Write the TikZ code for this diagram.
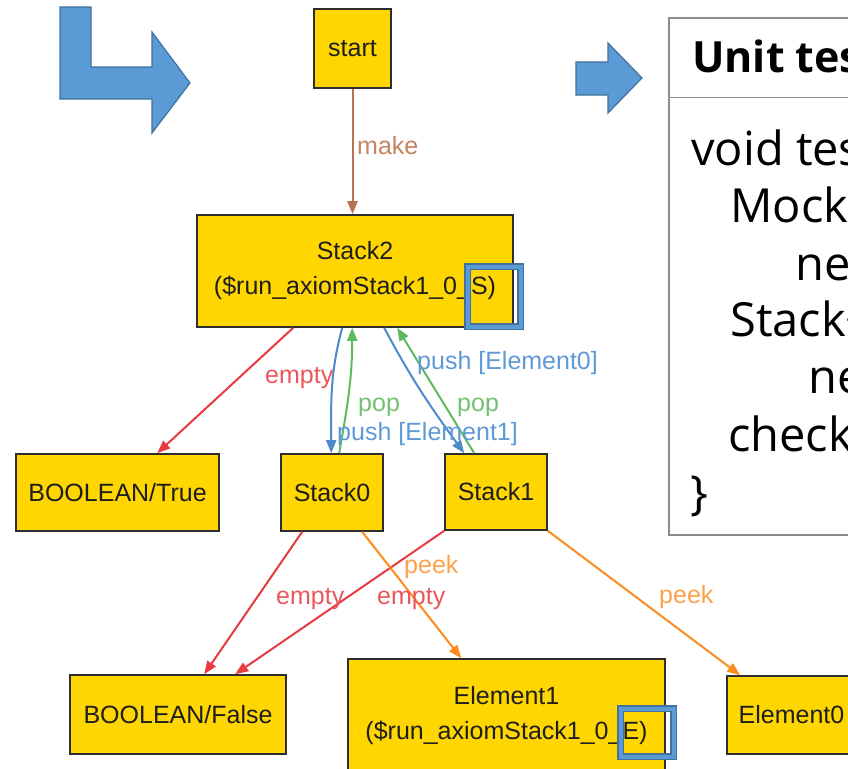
\documentclass[tikz,border=0pt]{standalone}
\usepackage{fontspec}
\setmainfont{Liberation Sans}
\newfontfamily\gfont{Liberation Sans}
\newfontfamily\ufont{Open Sans}
\usetikzlibrary{arrows.meta,calc}
\definecolor{nodefill}{HTML}{FFD600}
\definecolor{nodeborder}{HTML}{2E2E2E}
\definecolor{nodetext}{HTML}{1E1E1E}
\definecolor{makec}{HTML}{B5734F}
\definecolor{makel}{HTML}{C48462}
\definecolor{emptyc}{HTML}{E83A40}
\definecolor{emptyl}{HTML}{E9575C}
\definecolor{pushc}{HTML}{4D8ACB}
\definecolor{pushl}{HTML}{5F9AD6}
\definecolor{popc}{HTML}{5DBB5D}
\definecolor{popl}{HTML}{72C172}
\definecolor{peekc}{HTML}{FF8C1A}
\definecolor{peekl}{HTML}{FFA04A}
\definecolor{arrfill}{HTML}{5B9BD5}
\definecolor{arrline}{HTML}{41719C}
\definecolor{boxgray}{HTML}{8C8C8C}
\begin{document}
\begin{tikzpicture}[x=1pt,y=1pt,
  st/.style={draw=nodeborder, fill=nodefill, line width=1.6pt, inner sep=0pt,
    font=\gfont\fontsize{25}{35}\selectfont, text=nodetext, align=center},
  ed/.style={line width=2pt, -{Triangle[length=13pt,width=10pt]}},
  lbl/.style={font=\gfont\fontsize{25}{30}\selectfont, inner sep=0pt, anchor=base west},
  bigarrow/.style={fill=arrfill, draw=arrline, line width=1.2pt, line join=miter},
  utext/.style={font=\ufont\fontsize{47}{57}\selectfont, inner sep=0pt, anchor=base west, text=black},
  hlout/.style={draw=arrline, line width=7pt},
  hlin/.style={draw=arrfill, line width=4pt}
]
\useasboundingbox (0,0) rectangle (848,-768);
\clip (0,0) rectangle (848,-768);
\fill[white] (0,0) rectangle (848,-768);

% big bent arrow
\draw[bigarrow] (60,-7) -- (91,-7) -- (91,-67) -- (152,-67) -- (152,-32) -- (190,-83)
  -- (152,-133) -- (152,-99) -- (60,-99) -- cycle;
% small arrow
\draw[bigarrow] (576,-62) -- (608,-62) -- (608,-43) -- (642,-78) -- (608,-113)
  -- (608,-95) -- (576,-95) -- cycle;

% unit test box
\node[draw=boxgray, fill=white, line width=1.3pt, minimum width=201pt, minimum height=517pt, inner sep=0pt]
  (ut) at (769.5,-276.5) {};
\coordinate (hl) at ($(ut.north west)+(0,-80)$);
\draw[boxgray, line width=1.3pt] (hl) -- (hl -| ut.east);
\node[utext, font=\ufont\bfseries\fontsize{43}{50}\selectfont] (uth) at (692,-73) {Unit tes};
\node[utext] (u1) at (691,-165) {void tes};
\node[utext] (u2) at (730,-222) {Mock};
\node[utext] (u3) at (795,-280) {new};
\node[utext] (u4) at (730,-336) {Stack<};
\node[utext] (u5) at (808,-393) {ne};
\node[utext] (u6) at (728,-451) {check};
\node[utext] (u7) at (690,-509) {\}};

% graph nodes
\node[st, minimum width=77pt, minimum height=79pt] (start) at (352.5,-48.5) {start};
\node[st, minimum width=316pt, minimum height=112pt] (s2) at (355,-271) {Stack2\\(\$run\_axiomStack1\_0\_S)};
\node[st, minimum width=203pt, minimum height=77pt] (bt) at (117.5,-492.5) {BOOLEAN/True};
\node[st, minimum width=102pt, minimum height=77pt] (s0) at (332,-492.5) {Stack0};
\node[st, minimum width=102pt, minimum height=76pt] (s1) at (496,-492) {Stack1};
\node[st, minimum width=216pt, minimum height=79pt] (bf) at (178,-714.5) {BOOLEAN/False};
\node[st, minimum width=317pt, minimum height=113pt] (e1) at (506.5,-715.5) {Element1\\(\$run\_axiomStack1\_0\_E)};
\node[st, minimum width=129pt, minimum height=78pt] (e0) at (791.5,-715) {Element0};

% highlight squares
\draw[hlout] (467.5,-266.5) rectangle (520.5,-326.5);
\draw[hlin] (467.5,-266.5) rectangle (520.5,-326.5);
\draw[hlout] (620.5,-708.5) rectangle (673.5,-756.5);
\draw[hlin] (620.5,-708.5) rectangle (673.5,-756.5);

% edges
\draw[ed, makec] (start.south) -- (start.south |- s2.north);
\draw[ed, emptyc] ([xshift=97pt]s2.south west) -- ([xshift=142pt]bt.north west);
\draw[ed, pushc] ([xshift=146pt]s2.south west) to[out=-105,in=90] ([xshift=51pt]s0.north west);
\draw[ed, popc] ([xshift=59pt]s0.north west) to[out=80,in=-90] ([xshift=156pt]s2.south west);
\draw[ed, pushc] ([xshift=188pt]s2.south west) to[out=-62,in=126] ([xshift=20pt]s1.north west);
\draw[ed, popc] ([xshift=30pt]s1.north west) -- ([xshift=201pt]s2.south west);
\draw[ed, emptyc] ([xshift=22pt]s0.south west) -- ([xshift=135pt]bf.north west);
\draw[ed, emptyc] (s1.south west) -- ([xshift=166pt]bf.north west);
\draw[ed, peekc] ([xshift=82pt]s0.south west) -- ([xshift=114pt]e1.north west);
\draw[ed, peekc] (s1.south east) -- ([xshift=14pt]e0.north west);

% edge labels
\node[lbl, text=makel] (lmake) at (357,-154) {make};
\node[lbl, text=emptyl] (le1) at (265,-383) {empty};
\node[lbl, text=pushl] (lpush0) at (417,-369) {push [Element0]};
\node[lbl, text=popl] (lpop0) at (358,-411) {pop};
\node[lbl, text=popl] (lpop1) at (457,-411) {pop};
\node[lbl, text=pushl] (lpush1) at (337,-440) {push [Element1]};
\node[lbl, text=peekl] (lpeek0) at (404,-573) {peek};
\node[lbl, text=emptyl] (le2) at (276,-604) {empty};
\node[lbl, text=emptyl] (le3) at (377,-604) {empty};
\node[lbl, text=peekl] (lpeek1) at (659,-603) {peek};
\end{tikzpicture}
\end{document}
